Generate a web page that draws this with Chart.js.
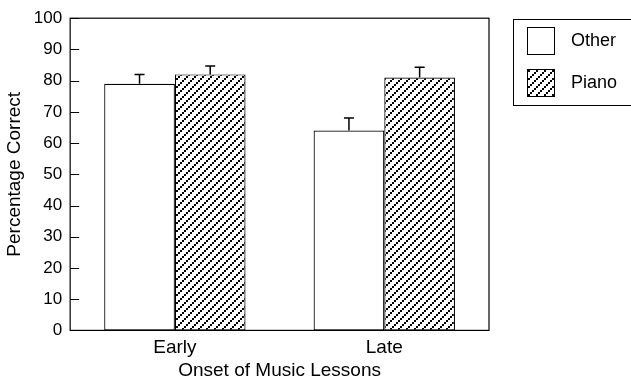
<!DOCTYPE html>
<html>
<head>
<meta charset="utf-8">
<script src="https://cdn.jsdelivr.net/npm/chart.js@4"></script>
<style>
    html, body { margin: 0; padding: 0; background: #fff; }
    #wrap { width: 631px; height: 378px; position: relative; }
</style>
</head>
<body>
<div id="wrap"><canvas id="chart" width="631" height="378"></canvas></div>
<script>
const categories = ["Early", "Late"];
const seriesNames = ["Other", "Piano"];
const otherValues = [79, 64];
const pianoValues = [82, 81];
const otherErrors = [3, 4];
const pianoErrors = [2.7, 3.3];
const yTicks = [0, 10, 20, 30, 40, 50, 60, 70, 80, 90, 100];

const FONT = "'Liberation Sans', Arial, Helvetica, sans-serif";

function makeHatch() {
    const size = 8;
    const c = document.createElement("canvas");
    c.width = size;
    c.height = size;
    const ctx = c.getContext("2d");
    ctx.fillStyle = "#fff";
    ctx.fillRect(0, 0, size, size);
    ctx.strokeStyle = "#333";
    ctx.lineWidth = 0.8;
    [[0, size, size, 0], [-size, size, 0, 0], [size, size, 2 * size, 0]].forEach(([x0, y0, x1, y1]) => {
        ctx.beginPath();
        ctx.moveTo(x0, y0);
        ctx.lineTo(x1, y1);
        ctx.stroke();
    });
    ctx.fillStyle = "#000";
    for (let i = 0; i < 4; i++) {
        const t = (i + 0.5) / 4;
        const x = t * size;
        const y = size - t * size;
        ctx.fillRect(x - 1, y - 1, 2, 2);
    }
    return ctx.createPattern(c, "repeat");
}

const hatch = makeHatch();

const errorBars = {
    id: "errorBars",
    afterDatasetsDraw(chart) {
        const ctx = chart.ctx;
        const y = chart.scales.y;
        const errs = [otherErrors, pianoErrors];
        ctx.save();
        ctx.strokeStyle = "#000";
        ctx.lineWidth = 1.5;
        chart.data.datasets.forEach((ds, di) => {
            const meta = chart.getDatasetMeta(di);
            meta.data.forEach((bar, i) => {
                const top = y.getPixelForValue(ds.data[i] + errs[di][i]);
                const base = y.getPixelForValue(ds.data[i]);
                ctx.beginPath();
                ctx.moveTo(bar.x, base);
                ctx.lineTo(bar.x, top);
                ctx.moveTo(bar.x - 5, top);
                ctx.lineTo(bar.x + 5, top);
                ctx.stroke();
            });
        });
        ctx.restore();
    }
};

const frame = {
    id: "frame",
    afterDraw(chart) {
        const ctx = chart.ctx;
        const a = chart.chartArea;
        const y = chart.scales.y;
        ctx.save();
        ctx.strokeStyle = "#000";
        ctx.lineWidth = 1.2;
        ctx.strokeRect(a.left, a.top, a.right - a.left, a.bottom - a.top);
        ctx.lineWidth = 1;
        yTicks.forEach((v) => {
            const py = Math.round(y.getPixelForValue(v)) + 0.5;
            ctx.beginPath();
            ctx.moveTo(a.left, py);
            ctx.lineTo(a.left + 9, py);
            ctx.stroke();
        });

        // legend box
        const lx = 513, ly = 19, lw = 130, lh = 86;
        ctx.lineWidth = 1;
        ctx.strokeRect(lx + 0.5, ly + 0.5, lw, lh);
        const fills = ["#fff", hatch];
        seriesNames.forEach((name, i) => {
            const by = ly + 8 + i * 42;
            ctx.fillStyle = fills[i];
            ctx.fillRect(527, by, 27, 27);
            ctx.strokeRect(527.5, by + 0.5, 27, 27);
            ctx.fillStyle = "#000";
            ctx.font = "18px " + FONT;
            ctx.textBaseline = "middle";
            ctx.textAlign = "left";
            ctx.fillText(name, 571, by + 14);
        });
        ctx.restore();
    }
};

new Chart(document.getElementById("chart"), {
    type: "bar",
    data: {
        labels: categories,
        datasets: [
            {
                label: seriesNames[0],
                data: otherValues,
                backgroundColor: "#fff",
                borderColor: "#000",
                borderWidth: 1.2,
                borderSkipped: false
            },
            {
                label: seriesNames[1],
                data: pianoValues,
                backgroundColor: hatch,
                borderColor: "#000",
                borderWidth: 1.2,
                borderSkipped: false
            }
        ]
    },
    options: {
        responsive: false,
        animation: false,
        layout: { padding: { top: 9, right: 142, left: -1, bottom: -4 } },
        datasets: { bar: { categoryPercentage: 0.675, barPercentage: 1.0 } },
        plugins: {
            legend: { display: false },
            tooltip: { enabled: false }
        },
        scales: {
            x: {
                grid: { display: false, drawTicks: false },
                border: { display: false },
                ticks: { color: "#000", font: { family: FONT, size: 19 }, padding: 6 },
                title: {
                    display: true,
                    text: "Onset of Music Lessons",
                    color: "#000",
                    font: { family: FONT, size: 19 },
                    padding: { top: -6, bottom: 0 }
                }
            },
            y: {
                min: 0,
                max: 100,
                afterBuildTicks(scale) {
                    scale.ticks = yTicks.map((v) => ({ value: v }));
                },
                grid: { display: false, drawTicks: false },
                border: { display: false },
                ticks: { color: "#000", font: { family: FONT, size: 17 }, padding: 8 },
                title: {
                    display: true,
                    text: "Percentage Correct",
                    color: "#000",
                    font: { family: FONT, size: 19 },
                    padding: { top: 4, bottom: 0 }
                }
            }
        }
    },
    plugins: [errorBars, frame]
});
</script>
</body>
</html>
